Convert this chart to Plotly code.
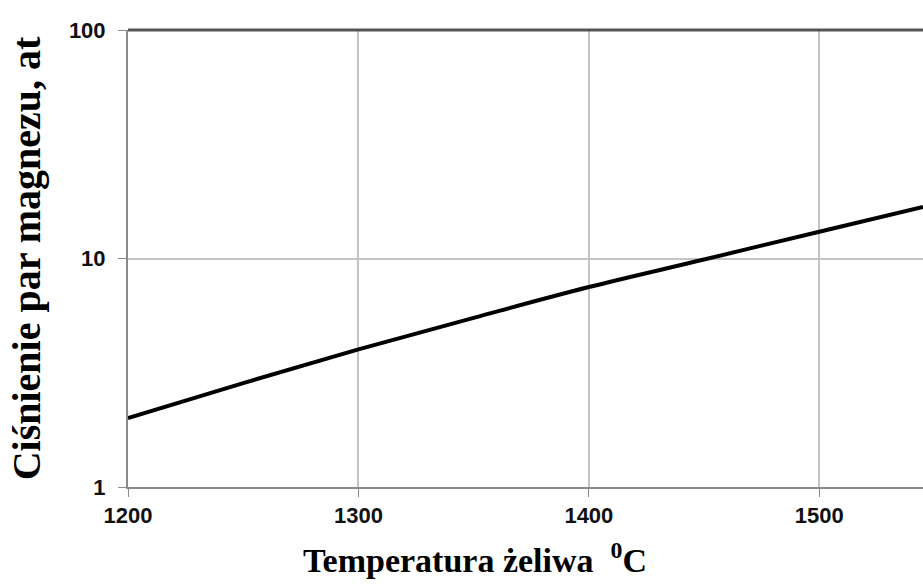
import plotly.graph_objects as go

temperature = [1200, 1250, 1300, 1350, 1400, 1450, 1500, 1545]
pressure = [2.0, 2.85, 4.0, 5.5, 7.5, 9.9, 13.1, 16.8]

x_ticks = [1200, 1300, 1400, 1500]
y_ticks = [1, 10, 100]

fig = go.Figure()
fig.add_trace(go.Scatter(x=temperature, y=pressure, mode="lines",
                         line=dict(color="black", width=4, shape="spline"),
                         showlegend=False))

fig.update_layout(
    width=923, height=587,
    margin=dict(l=128, r=0, t=30, b=100),
    plot_bgcolor="white", paper_bgcolor="white",
    xaxis=dict(range=[1200, 1545], tickvals=x_ticks, ticktext=[str(v) for v in x_ticks],
               showgrid=True, gridcolor="#c4c4c4", gridwidth=2,
               showline=True, linecolor="#8a8a8a", linewidth=2,
               ticks="outside", ticklen=8, tickcolor="#8a8a8a", tickwidth=1,
               tickfont=dict(family="Liberation Sans", size=22, color="#111111", weight="bold"),
               zeroline=False),
    yaxis=dict(type="log", range=[0, 2], tickvals=y_ticks, ticktext=[str(v) for v in y_ticks],
               showgrid=True, gridcolor="#c4c4c4", gridwidth=2,
               showline=True, linecolor="#8a8a8a", linewidth=2,
               ticks="outside", ticklen=8, tickcolor="#8a8a8a", tickwidth=1,
               ticklabelstandoff=8,
               tickfont=dict(family="Liberation Sans", size=22, color="#111111", weight="bold"),
               title=dict(text="Ciśnienie par magnezu, at", standoff=16,
                          font=dict(family="Liberation Serif", size=40, color="black", weight="bold")),
               zeroline=False),
)
fig.add_annotation(text="Temperatura żeliwa  <sup>0</sup>C", xref="paper", yref="paper",
                   x=0.436, y=0, xanchor="center", yanchor="top", yshift=-48,
                   showarrow=False,
                   font=dict(family="Liberation Serif", size=34, color="black", weight="bold"))
fig.add_shape(type="line", xref="paper", yref="paper", x0=0, x1=1, y0=1, y1=1,
              line=dict(color="#555555", width=3))

fig.write_html("out.html")
